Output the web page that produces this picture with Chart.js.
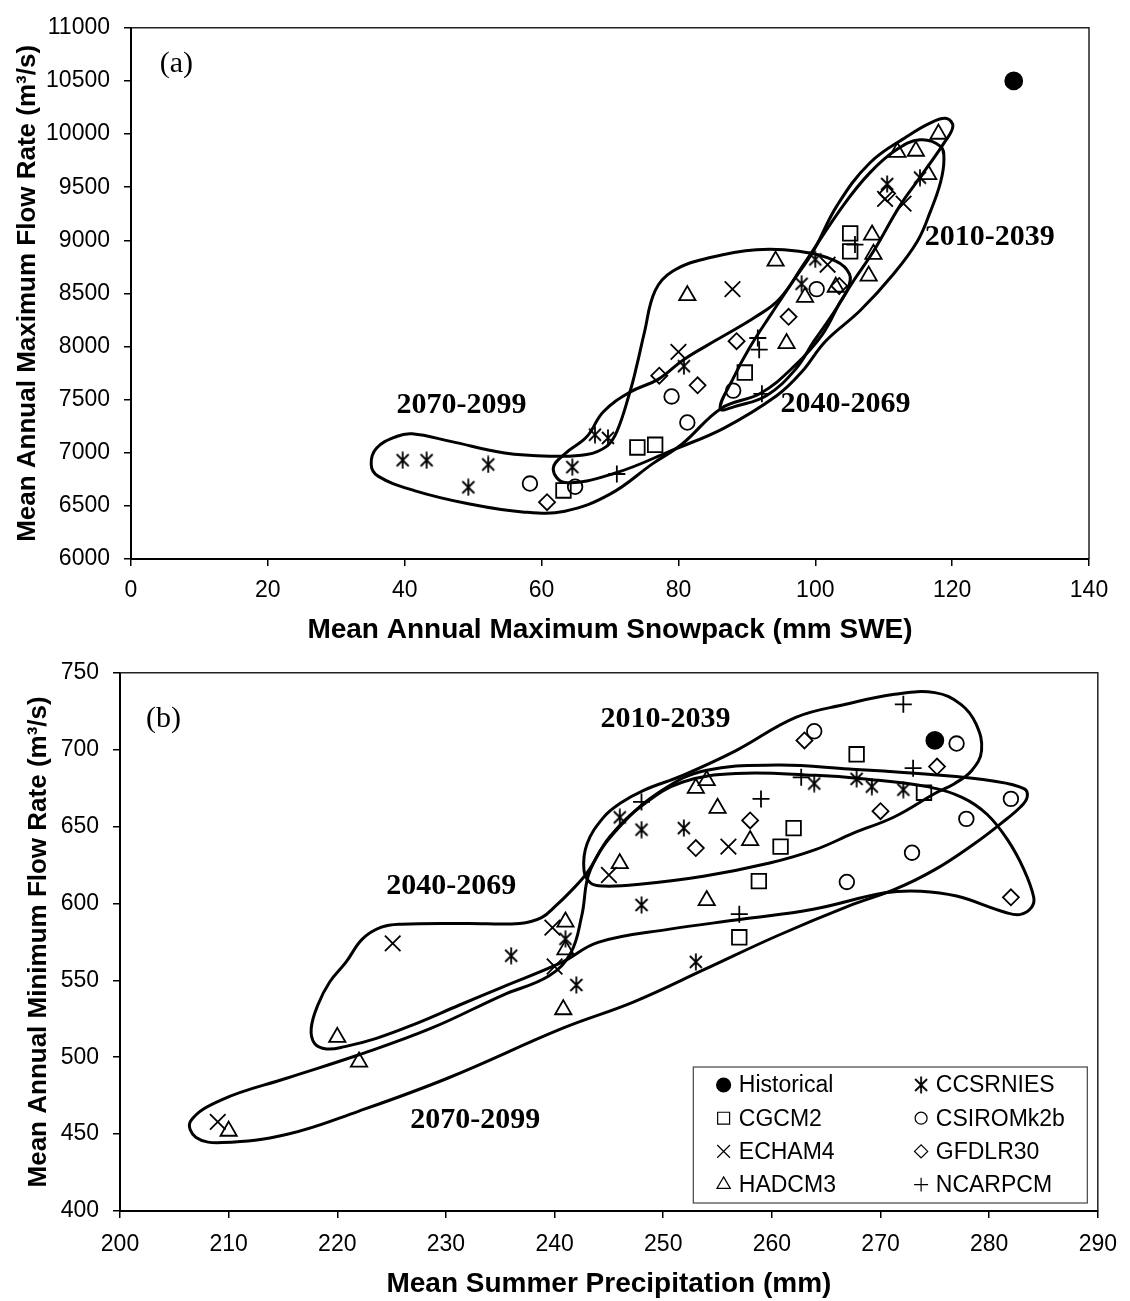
<!DOCTYPE html>
<html>
<head>
<meta charset="utf-8">
<script src="https://cdn.jsdelivr.net/npm/chart.js@4.4.0/dist/chart.umd.min.js"></script>
<style>
  html, body { margin: 0; padding: 0; background: #fff; }
  #wrap { position: relative; width: 1130px; height: 1301px; overflow: hidden; }
  canvas { position: absolute; left: 0; }
  #snow { top: 0; }
  #precip { top: 645px; }
</style>
</head>
<body>
<div id="wrap">
  <canvas id="snow" width="1130" height="650"></canvas>
  <canvas id="precip" width="1130" height="656"></canvas>
</div>
<script>
// ---------------------------------------------------------------
// Categories and tick labels
// ---------------------------------------------------------------
const models = ['Historical', 'CCSRNIES', 'CGCM2', 'CSIROMk2b', 'ECHAM4', 'GFDLR30', 'HADCM3', 'NCARPCM'];
const periods = ['2010-2039', '2040-2069', '2070-2099'];

const snowTicksX = [0, 20, 40, 60, 80, 100, 120, 140];
const snowTicksY = [6000, 6500, 7000, 7500, 8000, 8500, 9000, 9500, 10000, 10500, 11000];
const precipTicksX = [200, 210, 220, 230, 240, 250, 260, 270, 280, 290];
const precipTicksY = [400, 450, 500, 550, 600, 650, 700, 750];

// ---------------------------------------------------------------
// Panel (a): [mean annual max snowpack (mm SWE), mean annual max flow (m3/s)]
// ---------------------------------------------------------------
const snowHistorical = [[129, 10500]];
const snowCCSRNIES = [[39.7, 6930], [43.2, 6930], [49.3, 6675], [52.2, 6890], [64.5, 6865], [67.8, 7170],
  [69.7, 7140], [80.8, 7815], [98.0, 8590], [100.0, 8820], [110.5, 9530], [115.3, 9590]];
const snowCGCM2 = [[63.2, 6645], [74.0, 7050], [76.6, 7075], [89.7, 7755], [105.1, 9065], [105.1, 8895]];
const snowCSIROMk2b = [[58.3, 6710], [64.9, 6680], [79.0, 7530], [81.3, 7285], [88.0, 7585], [100.2, 8540]];
const snowECHAM4 = [[80.0, 7950], [87.9, 8540], [101.8, 8770], [110.2, 9390], [112.9, 9345]];
const snowGFDLR30 = [[60.8, 6535], [77.2, 7725], [82.8, 7635], [88.5, 8050], [96.1, 8280], [103.5, 8570], [110.5, 9440]];
const snowHADCM3 = [[81.3, 8480], [94.2, 8805], [95.8, 8030], [98.5, 8465], [103.0, 8560], [107.8, 8665],
  [108.3, 9050], [108.5, 8870], [112.0, 9830], [114.7, 9840], [116.5, 9620], [118.0, 10000]];
const snowNCARPCM = [[71.0, 6800], [91.6, 8080], [91.8, 7970], [92.2, 7555], [105.8, 8960]];

// Period envelopes, panel (a) (closed outlines)
const snowEnv2010 = [[86.1, 7415], [88.0, 7700], [90.5, 8000], [93.5, 8300], [96.8, 8619], [99.7, 8896],
  [103.2, 9329], [108.0, 9730], [113.4, 9977], [117.0, 10110], [119.2, 10146], [120.1, 10070], [118.8, 9915],
  [115.3, 9591], [112.4, 9329], [108.5, 8896], [105.6, 8619], [102.5, 8300], [99.8, 8050], [97.1, 7785],
  [92.9, 7539], [88.5, 7440]];
const snowEnv2040 = [[61.7, 6850], [63.4, 6990], [66.6, 7150], [69.0, 7384], [72.9, 7570], [77.1, 7693],
  [80.8, 7878], [85.6, 8063], [91.3, 8280], [94.8, 8450], [98.3, 8773], [104.1, 9329], [108.0, 9637],
  [111.9, 9854], [115.3, 9946], [118.3, 9884], [118.8, 9761], [118.3, 9545], [116.8, 9267], [114.9, 8989],
  [111.4, 8681], [106.6, 8341], [101.5, 8050], [98.0, 7760], [94.4, 7539], [86.6, 7230], [79.3, 7030],
  [70.8, 6810], [63.4, 6720]];
const snowEnv2070 = [[35.1, 6891], [35.9, 7045], [38.8, 7153], [41.1, 7178], [46.7, 7107], [54.6, 6998],
  [61.4, 6968], [66.6, 6983], [69.5, 7060], [71.0, 7199], [72.9, 7570], [73.9, 7817], [75.0, 8125],
  [76.6, 8526], [79.2, 8711], [84.5, 8835], [91.4, 8912], [97.6, 8896], [103.0, 8804], [105.0, 8681],
  [104.8, 8550], [103.5, 8403], [101.0, 8110], [97.0, 7820], [92.0, 7560], [86.3, 7420], [80.5, 7080],
  [76.3, 6900], [70.0, 6610], [63.4, 6450], [57.2, 6443], [49.3, 6520], [41.4, 6644], [36.1, 6780]];

// ---------------------------------------------------------------
// Panel (b): [mean summer precipitation (mm), mean annual min flow (m3/s)]
// ---------------------------------------------------------------
const precipHistorical = [[275, 706]];
const precipCCSRNIES = [[236, 566], [241, 577], [242, 547], [246, 656], [248, 648], [248, 599], [251.9, 649],
  [253, 562], [263.9, 678], [267.8, 681], [269.2, 676], [272.1, 674]];
const precipCGCM2 = [[257, 578], [258.8, 614.5], [260.8, 637], [262, 649], [267.8, 697], [274, 672]];
const precipCSIROMk2b = [[263.9, 712], [266.9, 614], [272.9, 633], [277, 704], [277.9, 655], [282, 668]];
const precipECHAM4 = [[209, 458], [225.1, 574], [239.8, 584.3], [240, 559], [245, 618.5], [256, 637]];
const precipGFDLR30 = [[253, 636], [258, 654], [263, 706], [270, 660], [275.2, 689], [282, 604]];
const precipHADCM3 = [[210, 452], [220, 513], [222, 497], [240.8, 531], [241, 570], [241, 588], [246, 626],
  [253, 675], [254, 680], [254, 602], [255, 662], [258, 641]];
const precipNCARPCM = [[248, 666], [257, 593], [259, 668], [262.7, 682], [272.1, 729.5], [273, 688]];

// Period envelopes, panel (b) (closed outlines)
const precipEnv2010 = [[242.7, 622], [243.0, 639], [244.5, 656], [246.0, 665], [248.2, 673.6], [251.8, 683.3],
  [256.7, 699.4], [262.2, 721], [266.8, 729.5], [271.3, 736], [275.0, 737.1], [277.4, 729.5], [278.8, 716.6],
  [279.3, 699.4], [278.4, 686.5], [276.8, 677.9], [275.0, 671.5], [271.3, 656.4], [267.5, 645.7], [264.0, 635],
  [259.8, 626.3], [253.7, 617.7], [247.6, 612.3], [244.5, 611.3], [243.3, 613.4]];
const precipEnv2040 = [[220.8, 561.8], [222.3, 576.8], [224.0, 584.4], [225.9, 586.5], [231.9, 587], [236.8, 587],
  [238.8, 590.8], [240.1, 598.4], [241.5, 608], [243.0, 620], [245.1, 643.5], [248.3, 665], [251.8, 679],
  [256.7, 684.5], [264.0, 683.3], [268.3, 681.1], [274.4, 675.8], [277.5, 669], [279.8, 658], [281.7, 641.3],
  [283.2, 622], [284.1, 604], [283.9, 597.5], [282.9, 592.9], [281.6, 594], [277.0, 604.8], [273.7, 608],
  [270.4, 606.9], [263.8, 596.2], [257.2, 589.7], [250.6, 583.3], [244.0, 574.7], [240.7, 561.8], [235.2, 545.6],
  [231.2, 533.8], [226.9, 520.9], [223.6, 512.3], [220.7, 506.9], [219.0, 505.4], [217.9, 509], [217.6, 518.7],
  [218.2, 533.8], [219.3, 548.9]];
const precipEnv2070 = [[283.5, 669.3], [282.9, 662.9], [281.1, 652.1], [278.7, 639.2], [275.0, 622], [271.3, 609.1],
  [267.1, 598.4], [260.5, 579], [253.9, 557.4], [247.3, 536], [240.7, 518.7], [230.2, 486.5], [222.0, 465],
  [215.4, 449.9], [209.4, 444.5], [207.0, 447.8], [206.5, 458.5], [209.4, 472.5], [215.4, 486.5], [222.0, 501.6],
  [228.6, 518.7], [235.2, 540.3], [239.5, 553], [241.5, 568], [242.5, 592], [243.3, 622], [246.0, 650],
  [249.9, 673.6], [253.9, 686.5], [260.5, 690], [267.1, 687.5], [274.4, 684], [280.5, 679.5], [283.2, 674.7]];

// ---------------------------------------------------------------
// Styling
// ---------------------------------------------------------------
const SANS = '"Liberation Sans", Arial, Helvetica, sans-serif';
const SERIF = '"Liberation Serif", "Times New Roman", serif';

// CCSRNIES marker: an x with a vertical stroke through it
const asteriskMark = (() => {
  const c = document.createElement('canvas');
  c.width = 18; c.height = 18;
  const g = c.getContext('2d');
  g.strokeStyle = '#000';
  g.lineWidth = 1.8;
  g.beginPath();
  g.moveTo(3, 3); g.lineTo(15, 15);
  g.moveTo(15, 3); g.lineTo(3, 15);
  g.moveTo(9, 0.5); g.lineTo(9, 17.5);
  g.stroke();
  return c;
})();

const markerStyle = {
  Historical: { pointStyle: 'circle', radius: 8.5, fill: '#000' },
  CCSRNIES: { pointStyle: asteriskMark, radius: 9 },
  CGCM2: { pointStyle: 'rect', radius: 10.3 },
  CSIROMk2b: { pointStyle: 'circle', radius: 7.3 },
  ECHAM4: { pointStyle: 'crossRot', radius: 11 },
  GFDLR30: { pointStyle: 'rectRot', radius: 8 },
  HADCM3: { pointStyle: 'triangle', radius: 9.4 },
  NCARPCM: { pointStyle: 'cross', radius: 8.5 }
};

function pointSet(label, pts) {
  const s = markerStyle[label];
  return {
    label,
    data: pts.map(([x, y]) => ({ x, y })),
    showLine: false,
    pointStyle: s.pointStyle,
    pointRadius: s.radius,
    pointHoverRadius: s.radius,
    pointBorderColor: '#000',
    pointBackgroundColor: s.fill || 'rgba(0,0,0,0)',
    pointBorderWidth: 1.8,
    order: 1
  };
}

// Closed smooth outline: the first three vertices are repeated at the end so
// every drawn segment gets proper spline neighbours; the two end segments
// whose control points are clamped are left transparent.
function envelopeSet(label, pts) {
  const n = pts.length;
  const loop = pts.concat([pts[0], pts[1], pts[2]]).map(([x, y]) => ({ x, y }));
  return {
    label,
    data: loop,
    showLine: true,
    tension: 0.4,
    fill: false,
    borderColor: '#000',
    borderWidth: 3,
    pointRadius: 0,
    pointHoverRadius: 0,
    segment: {
      borderColor: (ctx) => (ctx.p0DataIndex === 0 || ctx.p0DataIndex === n + 1) ? 'rgba(0,0,0,0)' : '#000'
    },
    order: 2
  };
}

function axis(ticks, title, o) {
  return {
    type: 'linear',
    min: ticks[0],
    max: ticks[ticks.length - 1],
    afterBuildTicks: (s) => { s.ticks = ticks.map((v) => ({ value: v })); },
    afterFit: (s) => { if (o.width) s.width = o.width; if (o.height) s.height = o.height; },
    grid: { display: true, drawOnChartArea: false, drawTicks: true, tickLength: 7, color: '#000', lineWidth: 1.5 },
    border: { display: true, color: '#000', width: 2 },
    ticks: {
      color: '#000', padding: o.tickPad, autoSkip: false, maxRotation: 0, minRotation: 0,
      font: { family: SANS, size: 23 },
      callback: (v) => String(v)
    },
    title: {
      display: true, text: title, color: '#000',
      font: { family: SANS, size: o.titleSize, weight: 'bold' },
      padding: o.titlePad
    }
  };
}

// top and right edges of the plot box
const frame = {
  id: 'frame',
  beforeDatasetsDraw(chart) {
    const { ctx, chartArea: a } = chart;
    ctx.save();
    ctx.strokeStyle = '#222';
    ctx.lineWidth = 1.5;
    ctx.beginPath();
    ctx.moveTo(a.left, a.top);
    ctx.lineTo(a.right, a.top);
    ctx.lineTo(a.right, a.bottom);
    ctx.stroke();
    ctx.restore();
  }
};

function notes(items) {
  return {
    id: 'notes',
    afterDatasetsDraw(chart) {
      const { ctx, scales: { x, y } } = chart;
      ctx.save();
      ctx.fillStyle = '#000';
      ctx.textBaseline = 'middle';
      items.forEach((it) => {
        ctx.font = it.font;
        ctx.textAlign = it.align || 'center';
        ctx.fillText(it.text, x.getPixelForValue(it.x), y.getPixelForValue(it.y));
      });
      ctx.restore();
    }
  };
}

function insetLegend(columns) {
  return {
    id: 'insetLegend',
    afterDraw(chart) {
      const { ctx, chartArea: a } = chart;
      const w = 394, h = 136;
      const x0 = a.right - 10.5 - w;
      const y0 = a.bottom - 8 - h;
      ctx.save();
      ctx.fillStyle = '#fff';
      ctx.fillRect(x0, y0, w, h);
      ctx.strokeStyle = '#444';
      ctx.lineWidth = 1.2;
      ctx.strokeRect(x0, y0, w, h);
      ctx.font = '23px ' + SANS;
      ctx.textBaseline = 'middle';
      ctx.textAlign = 'left';
      const colSym = [30.3, 227.8];
      const colText = [45.5, 242.5];
      columns.forEach((col, ci) => {
        col.forEach((name, ri) => {
          const s = markerStyle[name];
          const cy = y0 + 18 + ri * 33.2;
          const cx = x0 + colSym[ci];
          ctx.strokeStyle = '#000';
          ctx.fillStyle = s.fill || 'rgba(0,0,0,0)';
          const r = (typeof s.pointStyle === 'string') ? s.radius * 0.82 : s.radius;
          Chart.helpers.drawPoint(ctx, { pointStyle: s.pointStyle, radius: r, rotation: 0, borderWidth: 1.6 }, cx, cy);
          ctx.fillStyle = '#000';
          ctx.fillText(name, x0 + colText[ci], cy + 1);
        });
      });
      ctx.restore();
    }
  };
}

function buildPanel(id, spec) {
  const datasets = [];
  spec.envelopes.forEach((e, i) => datasets.push(envelopeSet(periods[i], e)));
  spec.series.forEach((pts, i) => datasets.push(pointSet(models[i], pts)));
  const extra = spec.legend ? [insetLegend(spec.legend)] : [];
  return new Chart(document.getElementById(id), {
    type: 'scatter',
    data: { datasets },
    options: {
      responsive: false,
      animation: false,
      devicePixelRatio: 1,
      events: [],
      layout: { padding: spec.padding },
      plugins: { legend: { display: false }, tooltip: { enabled: false } },
      scales: { x: spec.x, y: spec.y }
    },
    plugins: [frame, notes(spec.notes)].concat(extra)
  });
}

// ---------------------------------------------------------------
// Panel (a)
// ---------------------------------------------------------------
buildPanel('snow', {
  padding: { top: 19, right: 41, bottom: 0, left: 0 },
  envelopes: [snowEnv2010, snowEnv2040, snowEnv2070],
  series: [snowHistorical, snowCCSRNIES, snowCGCM2, snowCSIROMk2b, snowECHAM4, snowGFDLR30, snowHADCM3, snowNCARPCM],
  x: axis(snowTicksX, 'Mean Annual Maximum Snowpack (mm SWE)', { height: 91, tickPad: 11, titleSize: 28, titlePad: { top: 0, bottom: 3 } }),
  y: axis(snowTicksY, 'Mean Annual Maximum Flow Rate (m³/s)', { width: 131, tickPad: 14, titleSize: 26, titlePad: { top: 12, bottom: 0 } }),
  notes: [
    { text: '(a)', x: 4.2, y: 10660, font: '30px ' + SERIF, align: 'left' },
    { text: periods[0], x: 125.5, y: 9030, font: 'bold 30px ' + SERIF },
    { text: periods[1], x: 104.4, y: 7455, font: 'bold 30px ' + SERIF },
    { text: periods[2], x: 48.3, y: 7445, font: 'bold 30px ' + SERIF }
  ]
});

// ---------------------------------------------------------------
// Panel (b)
// ---------------------------------------------------------------
buildPanel('precip', {
  padding: { top: 23, right: 26, bottom: 0, left: 0 },
  envelopes: [precipEnv2010, precipEnv2040, precipEnv2070],
  series: [precipHistorical, precipCCSRNIES, precipCGCM2, precipCSIROMk2b, precipECHAM4, precipGFDLR30, precipHADCM3, precipNCARPCM],
  x: axis(precipTicksX, 'Mean Summer Precipitation (mm)', { height: 90, tickPad: 13, titleSize: 28, titlePad: { top: 0, bottom: 0 } }),
  y: axis(precipTicksY, 'Mean Annual Minimum Flow Rate (m³/s)', { width: 120, tickPad: 14, titleSize: 26, titlePad: { top: 23, bottom: 0 } }),
  notes: [
    { text: '(b)', x: 202.4, y: 720, font: '30px ' + SERIF, align: 'left' },
    { text: periods[0], x: 250.2, y: 720, font: 'bold 30px ' + SERIF },
    { text: periods[1], x: 230.5, y: 611, font: 'bold 30px ' + SERIF },
    { text: periods[2], x: 232.7, y: 459, font: 'bold 30px ' + SERIF }
  ],
  legend: [
    ['Historical', 'CGCM2', 'ECHAM4', 'HADCM3'],
    ['CCSRNIES', 'CSIROMk2b', 'GFDLR30', 'NCARPCM']
  ]
});
</script>
</body>
</html>
